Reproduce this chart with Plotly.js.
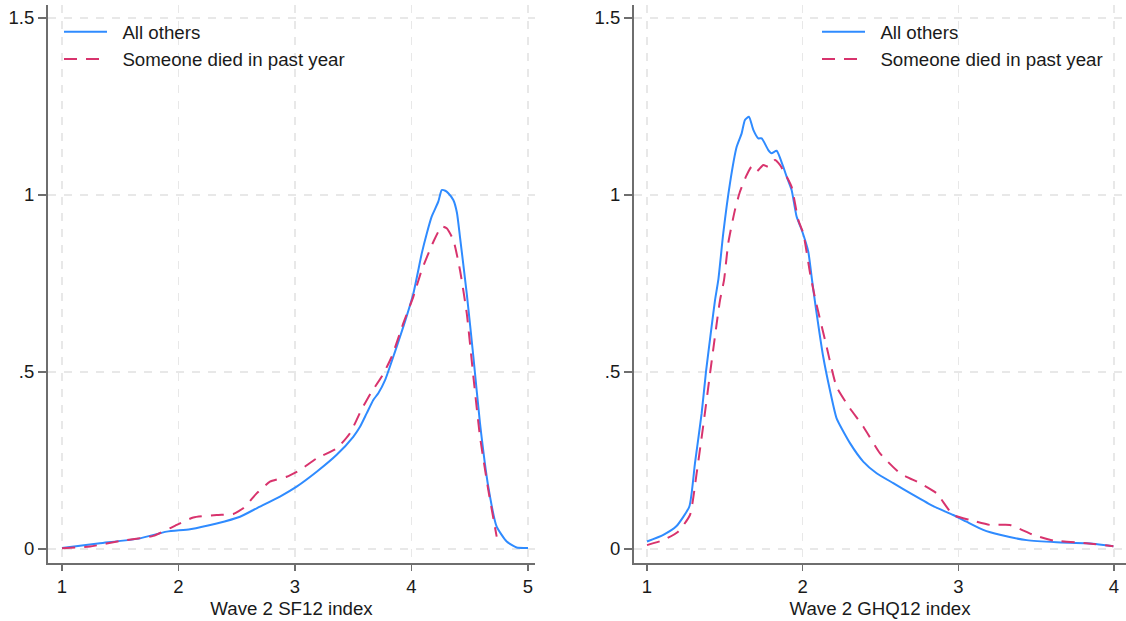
<!DOCTYPE html>
<html>
<head>
<meta charset="utf-8">
<script src="https://cdn.plot.ly/plotly-3.0.1.min.js"></script>
<style>html,body{margin:0;padding:0;background:#fff;}#chart{width:1126px;height:621px;}</style>
</head>
<body>
<div id="chart"></div>
<script>
// Left panel: Wave 2 SF12 index (kernel density)
const sfAllX = [1.0,1.326,1.67,1.899,2.099,2.328,2.528,2.671,2.871,3.014,3.186,3.358,3.5,3.558,3.615,3.672,3.715,3.773,3.858,3.93,4.016,4.088,4.13,4.173,4.23,4.259,4.29,4.316,4.359,4.39,4.416,4.474,4.531,4.588,4.659,4.731,4.817,4.903,5.0];
const sfAllY = [0.003,0.016,0.03,0.049,0.056,0.072,0.091,0.115,0.148,0.176,0.218,0.266,0.317,0.345,0.383,0.421,0.44,0.477,0.557,0.628,0.722,0.835,0.89,0.939,0.981,1.014,1.012,1.005,0.986,0.95,0.882,0.722,0.543,0.355,0.176,0.063,0.021,0.004,0.003];
const sfDiedX = [1.0,1.24,1.526,1.784,1.985,2.127,2.328,2.47,2.556,2.671,2.785,2.928,3.043,3.186,3.358,3.472,3.57,3.65,3.75,3.83,3.93,4.016,4.088,4.188,4.259,4.302,4.359,4.416,4.474,4.531,4.588,4.659,4.731];
const sfDiedY = [0.002,0.007,0.024,0.037,0.068,0.089,0.096,0.099,0.115,0.157,0.19,0.204,0.223,0.256,0.284,0.327,0.393,0.44,0.49,0.543,0.638,0.713,0.788,0.868,0.911,0.906,0.873,0.788,0.666,0.487,0.317,0.167,0.035];

// Right panel: Wave 2 GHQ12 index (kernel density)
const ghqAllX = [1.0,1.105,1.19,1.272,1.308,1.351,1.379,1.415,1.437,1.458,1.49,1.533,1.576,1.608,1.629,1.655,1.683,1.715,1.737,1.779,1.8,1.833,1.875,1.897,1.929,1.961,1.994,2.036,2.06,2.085,2.132,2.175,2.218,2.304,2.389,2.475,2.582,2.71,2.839,2.967,3.053,3.16,3.267,3.439,3.631,3.824,3.996];
const ghqAllY = [0.021,0.04,0.065,0.12,0.242,0.383,0.501,0.628,0.703,0.76,0.892,1.033,1.136,1.174,1.212,1.221,1.184,1.16,1.16,1.127,1.118,1.125,1.08,1.052,1.014,0.939,0.901,0.84,0.76,0.68,0.543,0.449,0.369,0.299,0.247,0.214,0.186,0.153,0.121,0.096,0.077,0.054,0.04,0.025,0.019,0.016,0.008];
const ghqDiedX = [1.0,1.105,1.2,1.276,1.319,1.366,1.405,1.448,1.469,1.495,1.522,1.565,1.597,1.64,1.672,1.704,1.747,1.779,1.822,1.854,1.897,1.929,1.972,2.004,2.047,2.079,2.154,2.218,2.304,2.389,2.497,2.625,2.753,2.861,2.967,3.075,3.203,3.331,3.481,3.61,3.781,3.996];
const ghqDiedY = [0.011,0.025,0.049,0.096,0.214,0.364,0.496,0.638,0.703,0.76,0.864,0.958,1.009,1.056,1.08,1.066,1.085,1.08,1.099,1.085,1.052,1.023,0.929,0.892,0.78,0.71,0.571,0.458,0.397,0.346,0.27,0.214,0.186,0.157,0.096,0.082,0.068,0.068,0.04,0.024,0.018,0.008];

const seriesNames = ["All others", "Someone died in past year"];
const yTickVals = [0, 0.5, 1, 1.5];
const yTickText = ["0", ".5", "1", "1.5"];
const sfTickVals = [1, 2, 3, 4, 5];
const ghqTickVals = [1, 2, 3, 4];
const xTitles = ["Wave 2 SF12 index", "Wave 2 GHQ12 index"];

const blue = "#2f8bff";
const pink = "#d8336d";
const dashPat = "13px,9px";
const pad = "\u00a0\u00a0"; // small gap between legend key and label

const traces = [
  {x: sfAllX, y: sfAllY, xaxis: "x", yaxis: "y", name: pad + seriesNames[0], mode: "lines",
   line: {color: blue, width: 2, shape: "spline", smoothing: 0.5}, legend: "legend", legendgroup: "a"},
  {x: sfDiedX, y: sfDiedY, xaxis: "x", yaxis: "y", name: pad + seriesNames[1], mode: "lines",
   line: {color: pink, width: 2, dash: dashPat, shape: "spline", smoothing: 0.5}, legend: "legend", legendgroup: "b"},
  {x: ghqAllX, y: ghqAllY, xaxis: "x2", yaxis: "y2", name: pad + seriesNames[0], mode: "lines",
   line: {color: blue, width: 2, shape: "spline", smoothing: 0.5}, legend: "legend2", legendgroup: "c"},
  {x: ghqDiedX, y: ghqDiedY, xaxis: "x2", yaxis: "y2", name: pad + seriesNames[1], mode: "lines",
   line: {color: pink, width: 2, dash: dashPat, shape: "spline", smoothing: 0.5}, legend: "legend2", legendgroup: "d"}
];

const FAM = "Liberation Sans, Arial, sans-serif";
const txtFont = {family: FAM, size: 18.7, color: "#1a1a1a"};
const axisCommon = {
  showline: true, linecolor: "#6e6e6e", linewidth: 2,
  ticks: "outside", tickcolor: "#6e6e6e", tickwidth: 1.5,
  showgrid: true, gridcolor: "#e8e8e8", gridwidth: 1.2, griddash: "8px,8px",
  zeroline: false, fixedrange: true,
  tickfont: {family: FAM, size: 18.5, color: "#1a1a1a"}
};
const yCommon = Object.assign({}, axisCommon, {
  range: [-0.0396, 1.5367], tickmode: "array", tickvals: yTickVals, ticktext: yTickText,
  ticklen: 8, domain: [0, 1]
});
const legendCommon = {
  bgcolor: "rgba(0,0,0,0)", borderwidth: 0, font: txtFont,
  xanchor: "left", yanchor: "top", y: 0.9857, itemwidth: 43, traceorder: "grouped", tracegroupgap: 0
};

const layout = {
  width: 1126, height: 621,
  margin: {l: 0, r: 0, t: 5, b: 58},
  paper_bgcolor: "#ffffff", plot_bgcolor: "#ffffff",
  font: txtFont,
  showlegend: true,
  xaxis: Object.assign({}, axisCommon, {
    domain: [48/1126, 535/1126], range: [0.88, 5.06], anchor: "y",
    tickmode: "array", tickvals: sfTickVals, ticklen: 6,
    title: {text: xTitles[0], font: txtFont, standoff: 6}
  }),
  yaxis: Object.assign({}, yCommon, {anchor: "x"}),
  xaxis2: Object.assign({}, axisCommon, {
    domain: [634/1126, 1], range: [0.9165, 4.077], anchor: "y2",
    tickmode: "array", tickvals: ghqTickVals, ticklen: 6,
    title: {text: xTitles[1], font: txtFont, standoff: 6}
  }),
  yaxis2: Object.assign({}, yCommon, {anchor: "x2"}),
  legend: Object.assign({}, legendCommon, {x: 59/1126}),
  legend2: Object.assign({}, legendCommon, {x: 817/1126})
};

Plotly.newPlot("chart", traces, layout, {displayModeBar: false, staticPlot: true});
</script>
</body>
</html>
